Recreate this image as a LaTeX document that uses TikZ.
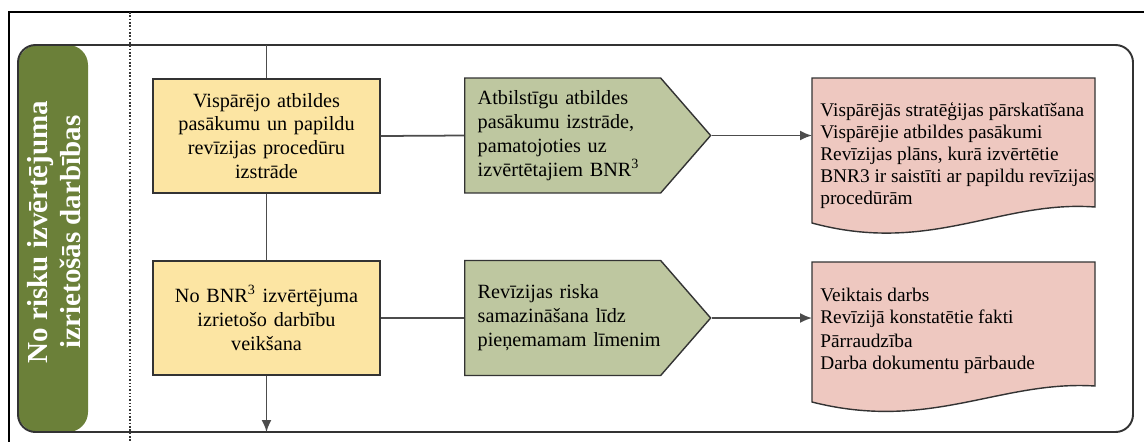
\documentclass[tikz,border=0pt]{standalone}
\usepackage{fontspec}
\setmainfont{Liberation Serif}
\usetikzlibrary{shapes.symbols,arrows.meta}
\definecolor{yfill}{HTML}{FCE5A3}
\definecolor{gfill}{HTML}{BEC7A0}
\definecolor{pfill}{HTML}{EEC8C0}
\definecolor{lanegreen}{HTML}{6B8039}
\definecolor{edge}{HTML}{333333}
\begin{document}
\begin{tikzpicture}[x=0.02cm,y=-0.02cm,
        yelbox/.style={draw=edge,fill=yfill,line width=0.8pt,minimum width=4.54cm,minimum height=2.28cm,align=center,text width=4.2cm,font=\fontsize{11.5}{13.6}\selectfont},
        sigbox/.style={shape=signal,signal to=east,signal pointer angle=98,draw=edge,fill=gfill,line width=0.8pt,minimum height=2.3cm,text width=3.4cm,inner xsep=0.26cm,align=left,anchor=west,font=\fontsize{11.5}{13.6}\selectfont},
        docshape/.style={draw=edge,fill=pfill,line width=0.8pt},
        doctext/.style={anchor=north west,inner xsep=0.16cm,inner ysep=0pt,align=left,font=\fontsize{11}{12.5}\selectfont},
        conn/.style={draw=black!70,line width=1pt},
        tip/.style={-{Latex[length=2.4mm,width=2mm]}}]
    \useasboundingbox (0,0) rectangle (1144,441);
    % page frame and dotted separator
    \draw[black,line width=0.6pt] (9,470) -- (9,12) -- (1170,12);
    \draw[black!80,line width=0.9pt,densely dotted] (130,12) -- (130,441);

    % lane
    \fill[lanegreen,rounded corners=0.4cm] (18,45) rectangle (88,432);
    \draw[edge,line width=1.1pt,rounded corners=0.35cm] (18,45) rectangle (1133,432);
    \node[rotate=90,text=white,font=\bfseries\fontsize{16.5}{18.5}\selectfont,align=center] (L) at (54,232) {No risku izvērtējuma\\izrietošās darbības};

    \coordinate (top) at (266.5,45);
    \coordinate (bot) at (266.5,432);

    \node[yelbox] (Y1) at (266.5,136) {Vispārējo atbildes\\pasākumu un papildu\\revīzijas procedūru\\izstrāde};
    \node[yelbox] (Y2) at (266.5,318) {No BNR\textsuperscript{3} izvērtējuma\\izrietošo darbību\\veikšana};

    \node[sigbox] (G1) at (464,135.5) {Atbilstīgu atbildes\\pasākumu izstrāde,\\pamatojoties uz\\izvērtētajiem BNR\textsuperscript{3}};
    \node[sigbox] (G2) at (464,318) {Revīzijas riska\\samazināšana līdz\\\mbox{pieņemamam līmenim}};

    \filldraw[docshape] (812,78) -- (1095,78) -- (1095,207) .. controls (1000,200) and (930,255) .. (812,223) -- cycle;
    \filldraw[docshape] (812,262) -- (1095,262) -- (1095,386) .. controls (1000,380) and (930,432) .. (812,402) -- cycle;

    \node[doctext] (D1) at (812,102) {Vispārējās stratēģijas pārskatīšana\\Vispārējie atbildes pasākumi\\Revīzijas plāns, kurā izvērtētie\\BNR3 ir saistīti ar papildu revīzijas\\procedūrām};
    \node[doctext] (D2) at (812,288) {Veiktais darbs\\Revīzijā konstatētie fakti\\[1pt]Pārraudzība\\Darba dokumentu pārbaude};

    \draw[conn] (top) -- (Y1);
    \draw[conn] (Y1) -- (Y2);
    \draw[conn,tip] (Y2) -- (bot);

    \draw[conn] (Y1.east) -- (G1.west);
    \draw[conn] (Y2.east) -- (G2.west);

    \draw[conn,tip] (G1.east) -- (G1.east -| D1.west);
    \draw[conn,tip] (G2.east) -- (G2.east -| D2.west);
\end{tikzpicture}
\end{document}
